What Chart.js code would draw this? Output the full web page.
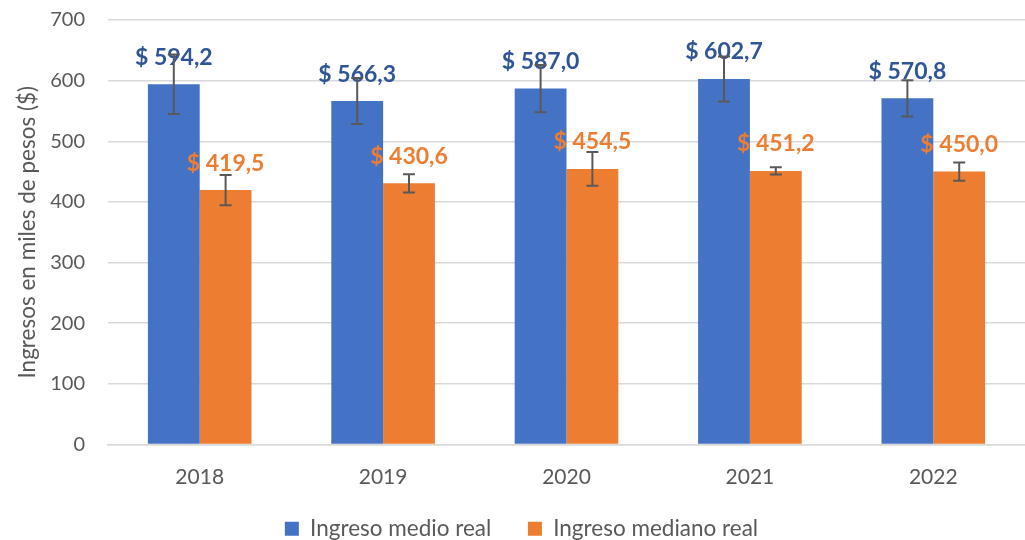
<!DOCTYPE html>
<html lang="es">
<head>
<meta charset="UTF-8">
<title>Ingresos</title>
<script src="https://cdn.jsdelivr.net/npm/chart.js@4.4.0/dist/chart.umd.min.js"></script>
<style>
  html, body { margin: 0; padding: 0; background: #fff; }
  #wrap { width: 1025px; height: 540px; }
</style>
</head>
<body>
<div id="wrap"><canvas id="myCanvas"></canvas></div>
<script>
// data
var anios = ['2018', '2019', '2020', '2021', '2022'];
var ingresoMedio = [594.2, 566.3, 587.0, 602.7, 570.8];
var ingresoMediano = [419.5, 430.6, 454.5, 451.2, 450.0];
// half-width of the error bars (estimated)
var errorMedio = [49, 38, 39, 37, 30];
var errorMediano = [25, 15, 28, 6, 15];
var yTicks = [0, 100, 200, 300, 400, 500, 600, 700];

var fuente = 'Lato, "Open Sans", sans-serif';
var errores = [errorMedio, errorMediano];
var coloresEtiqueta = ['#2F5597', '#ED7D31'];

var plugEtiquetas = {
    id: 'etiquetasYErrores',
    afterDatasetsDraw: function(chart) {
        var ctx = chart.ctx;
        var y = chart.scales.y;
        ctx.save();
        // value labels
        chart.data.datasets.forEach(function(ds, d) {
            var meta = chart.getDatasetMeta(d);
            meta.data.forEach(function(bar, i) {
                ctx.font = 'bold 23px ' + fuente;
                ctx.fillStyle = coloresEtiqueta[d];
                ctx.textAlign = 'center';
                ctx.textBaseline = 'middle';
                var txt = '$ ' + ds.data[i].toFixed(1).replace('.', ',');
                ctx.fillText(txt, bar.x, bar.y - 27);
            });
        });
        // error bars
        chart.data.datasets.forEach(function(ds, d) {
            var meta = chart.getDatasetMeta(d);
            meta.data.forEach(function(bar, i) {
                var v = ds.data[i], e = errores[d][i];
                var top = y.getPixelForValue(v + e);
                var bot = y.getPixelForValue(v - e);
                ctx.strokeStyle = '#595959';
                ctx.lineWidth = 2;
                ctx.beginPath();
                ctx.moveTo(bar.x, top); ctx.lineTo(bar.x, bot);
                ctx.moveTo(bar.x - 6, top); ctx.lineTo(bar.x + 6, top);
                ctx.moveTo(bar.x - 6, bot); ctx.lineTo(bar.x + 6, bot);
                ctx.stroke();
            });
        });
        ctx.restore();
    }
};

var ctx = document.getElementById('myCanvas').getContext('2d');
var myChart = new Chart(ctx, {
    type: 'bar',
    data: {
        labels: anios,
        datasets: [{
            label: 'Ingreso medio real',
            backgroundColor: '#4472C4',
            data: ingresoMedio
        }, {
            label: 'Ingreso mediano real',
            backgroundColor: '#ED7D31',
            data: ingresoMediano
        }]
    },
    options: {
        responsive: true,
        maintainAspectRatio: false,
        animation: false,
        layout: { padding: { left: 18, right: 0, top: 20, bottom: -10 } },
        datasets: { bar: { categoryPercentage: 0.565, barPercentage: 1.0 } },
        plugins: {
            tooltip: { enabled: false },
            legend: {
                position: 'bottom',
                labels: {
                    boxWidth: 14, boxHeight: 14, padding: 2,
                    color: '#595959',
                    font: { family: fuente, size: 22.5 },
                    generateLabels: function(chart) {
                        var items = Chart.defaults.plugins.legend.labels.generateLabels(chart);
                        items[0].text = items[0].text + '      ';
                        return items;
                    }
                }
            }
        },
        scales: {
            x: {
                afterFit: function(scale) { scale.height = 71; },
                grid: { display: false },
                border: { color: '#d9d9d9', width: 1.5 },
                ticks: { color: '#595959', font: { family: fuente, size: 21 }, padding: 12 }
            },
            y: {
                min: 0, max: 700,
                afterFit: function(scale) {
                    scale.width = 90;
                    scale.paddingTop = 0;
                    scale.paddingBottom = 0;
                },
                afterBuildTicks: function(axis) {
                    axis.ticks = yTicks.map(function(v) { return { value: v }; });
                },
                grid: { color: '#d9d9d9', lineWidth: 1.5, drawTicks: false },
                border: { display: false },
                ticks: { color: '#595959', font: { family: fuente, size: 20 }, padding: 23 },
                title: {
                    display: true,
                    text: 'Ingresos en miles de pesos ($)',
                    color: '#595959',
                    font: { family: fuente, size: 22.5 },
                    padding: { top: -4, bottom: 0 }
                }
            }
        }
    },
    plugins: [plugEtiquetas]
});
</script>
</body>
</html>
